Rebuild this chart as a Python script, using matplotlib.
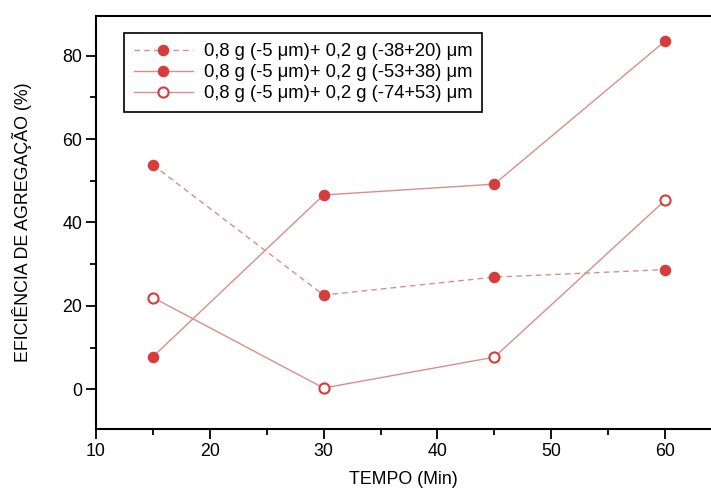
import matplotlib.pyplot as plt
from matplotlib.ticker import MultipleLocator

plt.rcParams['font.family'] = ['Liberation Sans', 'DejaVu Sans']

# data
tempo = [15, 30, 45, 60]
ef_38_20 = [53.8, 22.6, 26.9, 28.7]
ef_53_38 = [7.8, 46.6, 49.2, 83.5]
ef_74_53 = [22.0, 0.3, 7.7, 45.3]
labels = [
    '0,8 g (-5 μm)+ 0,2 g (-38+20) μm',
    '0,8 g (-5 μm)+ 0,2 g (-53+38) μm',
    '0,8 g (-5 μm)+ 0,2 g (-74+53) μm',
]

line_c = '#d98f86'
mark_c = '#d63c3c'

fig = plt.figure(figsize=(7.11, 4.95), dpi=100)
ax = fig.add_axes([96 / 711, 65.7 / 495, 615 / 711, 413.6 / 495])

ax.plot(tempo, ef_38_20, ls=(0, (4, 3)), lw=1, color=line_c,
        marker='o', ms=7.3, mfc=mark_c, mec=mark_c, label=labels[0])
ax.plot(tempo, ef_53_38, ls='-', lw=1, color=line_c,
        marker='o', ms=7.3, mfc=mark_c, mec=mark_c, label=labels[1])
ax.plot(tempo, ef_74_53, ls='-', lw=1, color=line_c,
        marker='o', ms=7.3, mfc='white', mec=mark_c, mew=1.5, label=labels[2])

ax.set_xlim(10, 64.04)
ax.set_ylim(-9.6, 89.6)
ax.xaxis.set_major_locator(MultipleLocator(10))
ax.xaxis.set_minor_locator(MultipleLocator(5))
ax.yaxis.set_major_locator(MultipleLocator(20))
ax.yaxis.set_minor_locator(MultipleLocator(10))
ax.set_yticks([0, 20, 40, 60, 80])

ax.spines['right'].set_visible(False)
for s in ['left', 'top', 'bottom']:
    ax.spines[s].set_linewidth(1.5)

ax.tick_params(which='major', direction='out', length=7, width=1.3,
               labelsize=12.8, pad=3)
ax.tick_params(which='minor', direction='out', length=4, width=1.3)
ax.tick_params(axis='x', which='both', top=False)
ax.tick_params(axis='y', which='both', right=False)

ax.set_xlabel('TEMPO (Min)', fontsize=12.8, labelpad=8)
ax.set_ylabel('EFICIÊNCIA DE AGREGAÇÃO (%)', fontsize=12.8, labelpad=22)

leg = ax.legend(loc='upper left', bbox_to_anchor=(0.0455, 0.958),
                borderaxespad=0, fancybox=False, fontsize=13.2,
                handlelength=3.2, labelspacing=0.22, handletextpad=0.6,
                borderpad=0.55, framealpha=1)
leg.get_frame().set_edgecolor('black')
leg.get_frame().set_linewidth(1.2)

fig.savefig('out.png', dpi=100)
